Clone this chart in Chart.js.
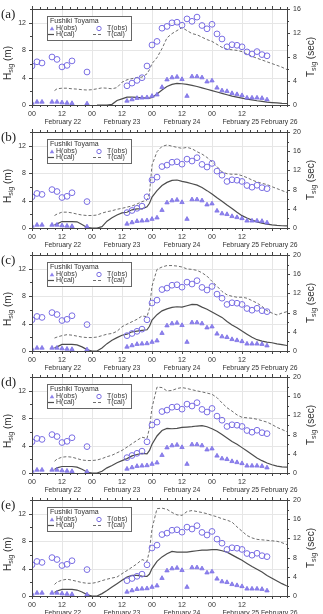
<!DOCTYPE html>
<html>
<head>
<meta charset="utf-8">
<script src="https://cdn.jsdelivr.net/npm/chart.js@4.4.0/dist/chart.umd.min.js"></script>
<style>
  body { margin: 0; width: 323px; height: 614px; overflow: hidden; background: #fff; position: relative; }
  canvas { position: absolute; left: 0; }
</style>
</head>
<body>
<canvas id="pa" width="323" height="135" style="top:0px"></canvas>
<canvas id="pb" width="323" height="135" style="top:123px"></canvas>
<canvas id="pc" width="323" height="135" style="top:246px"></canvas>
<canvas id="pd" width="323" height="135" style="top:368px"></canvas>
<canvas id="pe" width="323" height="135" style="top:491px"></canvas>
<script>
// hours since February 22 00:00
const obsHours = [0, 2, 4, 8, 10, 12, 14, 16, 22, 38, 40, 42, 44, 46, 48, 50, 52, 54, 56, 58, 60, 62, 64, 66, 68, 70, 72, 74, 76, 78, 80, 82, 84, 86, 88, 90, 92, 94];
const hObs = [0.3, 0.45, 0.45, 0.45, 0.45, 0.35, 0.3, 0.25, 0.2, 0.6, 0.8, 1.0, 1.05, 1.1, 1.3, 1.5, 2.6, 3.7, 4.0, 4.1, 3.75, 1.3, 4.15, 4.15, 4.0, 3.4, 3.55, 2.5, 2.1, 2.0, 1.7, 1.55, 1.4, 1.05, 1.05, 1.05, 1.0, 0.78];
const tObs = [6.5, 7.2, 7.0, 8.0, 7.6, 6.35, 6.6, 7.35, 5.5, 3.2, 3.65, 4.1, 4.55, 6.5, 10.0, 10.6, 12.8, 13.1, 13.7, 13.8, 13.3, 14.35, 13.95, 14.65, 13.25, 12.7, 13.45, 11.85, 11.0, 9.7, 10.05, 9.95, 9.7, 8.85, 8.5, 8.9, 8.4, 8.2];

const calHours = [9, 10, 12, 14, 16, 18, 20, 22, 24, 26, 28, 30, 32, 34, 36, 38, 40, 42, 44, 46, 47, 48, 50, 52, 54, 56, 58, 60, 62, 64, 66, 68, 70, 72, 74, 76, 78, 80, 82, 84, 86, 88, 90, 92, 94, 96, 98, 100, 102];

const hCalA = [null, null, null, null, null, null, null, null, null, 0, 0, 0, 0.1, 0.65, 0.9, 1.15, 1.15, 1.1, 1.05, 1.0, 1.0, 1.1, 1.6, 2.2, 2.7, 3.0, 3.15, 3.1, 3.0, 2.85, 2.7, 2.5, 2.3, 2.1, 1.9, 1.7, 1.5, 1.3, 1.15, 1.0, 0.85, 0.75, 0.62, 0.52, 0.43, 0.36, 0.3, 0.25, 0.22];
const tCalA = [2.4, 2.7, 2.8, 2.8, 2.7, 2.65, 2.55, 2.5, 2.55, 2.7, 2.85, 2.8, 2.7, 2.9, 3.8, 4.2, 4.4, 4.6, 4.65, 5.2, 5.9, 6.9, 7.9, 9.4, 11.2, 11.9, 12.4, 12.9, 12.4, 11.9, 11.7, 11.3, 10.9, 10.6, 10.1, 9.6, 9.3, 9.2, 9.1, 8.9, 8.5, 8.1, 7.8, 7.5, 7.2, 6.9, 6.6, 6.3, 5.9];

const hCalB = [0.45, 0.6, 0.94, 0.94, 0.94, 0.9, 0.5, 0.08, 0, 0, 0.2, 1.0, 1.5, 1.9, 2.2, 2.3, 2.65, 2.8, 2.8, 3.1, 3.6, 4.5, 5.45, 6.2, 6.65, 6.95, 7.0, 6.8, 6.65, 6.45, 6.25, 5.9, 5.45, 4.95, 4.4, 3.9, 3.35, 2.85, 2.3, 1.8, 1.45, 1.15, 0.9, 0.72, 0.56, 0.46, 0.38, 0.33, 0.3];
const tCalB = [2.6, 2.9, 3.3, 3.3, 3.15, 2.9, 2.7, 2.6, 2.6, 2.7, 3.1, 3.4, 3.6, 3.9, 4.1, 4.35, 4.6, 5.0, 5.5, 5.8, 7.2, 13.1, 15.9, 17.0, 17.3, 17.05, 16.8, 16.6, 16.8, 16.5, 15.9, 15.4, 14.7, 13.8, 12.8, 11.7, 11.3, 11.2, 11.2, 10.9, 10.5, 10.0, 9.6, 9.3, 9.05, 8.6, 8.2, 7.8, 7.4];

const hCalC = [0.45, 0.6, 0.97, 0.97, 0.97, 0.9, 0.6, 0.2, 0, 0, 0.45, 1.07, 1.56, 1.95, 2.3, 2.45, 2.8, 2.9, 3.0, 3.1, 3.6, 4.5, 5.3, 5.85, 6.15, 6.35, 6.45, 6.4, 6.6, 6.8, 6.75, 6.4, 6.1, 5.7, 5.3, 4.9, 4.3, 3.8, 3.4, 2.9, 2.45, 2.0, 1.65, 1.45, 1.3, 1.2, 1.05, 0.92, 0.8];
const tCalC = [2.7, 2.9, 3.2, 3.4, 3.3, 3.1, 2.9, 2.8, 2.8, 2.9, 3.2, 3.5, 3.65, 4.1, 5.05, 5.6, 6.1, 6.6, 7.3, 7.15, 8.9, 13.5, 17.0, 17.5, 17.8, 17.8, 17.7, 17.5, 17.1, 17.0, 16.8, 16.3, 15.6, 14.5, 13.5, 12.4, 11.7, 11.4, 11.2, 11.2, 11.0, 10.5, 10.0, 9.3, 8.4, 7.9, 7.5, 7.9, 8.2];

const hCalD = [0.5, 0.75, 0.95, 0.95, 0.95, 0.85, 0.55, 0.15, 0, 0, 0.25, 0.75, 1.1, 1.5, 1.8, 2.1, 2.5, 2.7, 2.85, 2.8, 3.3, 4.2, 5.4, 6.2, 6.5, 6.45, 6.5, 6.65, 6.7, 6.75, 6.85, 6.9, 6.75, 6.45, 6.1, 5.6, 5.1, 4.6, 4.2, 3.7, 3.2, 2.7, 2.2, 1.8, 1.45, 1.2, 1.0, 0.9, 0.85];
const tCalD = [2.45, 2.9, 3.3, 3.4, 3.3, 3.0, 2.7, 2.6, 2.6, 2.7, 3.0, 3.4, 3.7, 4.2, 4.7, 5.4, 6.1, 6.8, 7.45, 7.2, 9.4, 13.6, 17.9, 17.8, 17.1, 17.2, 17.6, 17.8, 17.6, 17.35, 17.1, 16.9, 16.65, 16.4, 15.7, 14.6, 13.6, 12.9, 12.1, 11.6, 11.5, 11.4, 11.2, 10.9, 10.6, 10.1, 9.5, 9.06, 8.6];

const hCalE = [0.5, 0.73, 0.97, 0.97, 0.97, 0.87, 0.58, 0.2, 0, 0, 0.35, 0.8, 1.3, 1.8, 2.3, 2.75, 3.0, 3.0, 2.9, 2.85, 3.2, 4.0, 5.05, 5.7, 6.15, 6.5, 6.4, 6.4, 6.4, 6.5, 6.6, 6.7, 6.7, 6.75, 6.75, 6.6, 6.4, 6.0, 5.6, 5.2, 4.75, 4.3, 3.9, 3.5, 3.0, 2.6, 2.2, 1.8, 1.45];
const tCalE = [2.4, 2.9, 3.3, 3.5, 3.3, 3.05, 2.8, 2.65, 2.65, 2.85, 3.2, 3.5, 3.75, 3.95, 4.65, 5.3, 6.0, 6.7, 7.6, 7.2, 9.5, 14.0, 18.2, 18.3, 18.05, 17.4, 16.9, 16.8, 17.6, 17.8, 17.6, 17.4, 17.15, 16.8, 16.5, 16.1, 15.8, 15.4, 14.4, 13.5, 12.6, 12.1, 11.8, 11.7, 11.6, 11.5, 11.4, 11.1, 10.7];

// date captions under the time axis (label text, hour where it is centred)
const dateLabels = ["February 22", "February 23", "February 24", "February 25", "February 26"];
const dateAt = [12.3, 36, 60, 83.5, 98.9];

const panels = [
  { id: "pa", tag: "(a)", hCal: hCalA, tCal: tCalA, tMax: 16 },
  { id: "pb", tag: "(b)", hCal: hCalB, tCal: tCalB, tMax: 20 },
  { id: "pc", tag: "(c)", hCal: hCalC, tCal: tCalC, tMax: 20 },
  { id: "pd", tag: "(d)", hCal: hCalD, tCal: tCalD, tMax: 20 },
  { id: "pe", tag: "(e)", hCal: hCalE, tCal: tCalE, tMax: 20 }
];

const FONT = '"Liberation Sans", Arial, sans-serif';
const markColor = "#7b6fe4";

function pts(xs, ys) {
  return xs.map((x, i) => ({ x: x, y: ys[i] })).filter(p => p.y !== null);
}

function rotTitle(ctx, x, y, main, sub, rest) {
  ctx.save();
  ctx.translate(x, y);
  ctx.rotate(-Math.PI / 2);
  ctx.fillStyle = "#333";
  ctx.textBaseline = "middle";
  ctx.textAlign = "left";
  ctx.font = "10px " + FONT;
  const w1 = ctx.measureText(main).width;
  const w3 = ctx.measureText(rest).width;
  ctx.font = "7px " + FONT;
  const w2 = ctx.measureText(sub).width;
  let cx = -(w1 + w2 + w3) / 2;
  ctx.font = "10px " + FONT;
  ctx.fillText(main, cx, 0);
  ctx.font = "7px " + FONT;
  ctx.fillText(sub, cx + w1, 3);
  ctx.font = "10px " + FONT;
  ctx.fillText(rest, cx + w1 + w2, 0);
  ctx.restore();
}

const decor = {
  id: "decor",
  beforeDatasetsDraw(chart) {
    const { ctx, chartArea: ca, scales } = chart;
    ctx.save();
    ctx.strokeStyle = "#e6e6e6";
    ctx.lineWidth = 1;
    ctx.beginPath();
    for (let h = 12; h < 102; h += 12) {
      const x = Math.round(scales.x.getPixelForValue(h)) + 0.5;
      ctx.moveTo(x, ca.top); ctx.lineTo(x, ca.bottom);
    }
    for (let v = 4; v < 14; v += 4) {
      const y = Math.round(scales.y.getPixelForValue(v)) + 0.5;
      ctx.moveTo(ca.left, y); ctx.lineTo(ca.right, y);
    }
    ctx.stroke();
    ctx.restore();
  },
  afterDatasetsDraw(chart, args, opts) {
    const { ctx, chartArea: ca, scales } = chart;
    ctx.save();
    // frame
    ctx.strokeStyle = "#444";
    ctx.lineWidth = 1;
    ctx.strokeRect(Math.round(ca.left) + 0.5, Math.round(ca.top) + 0.5, Math.round(ca.right - ca.left), Math.round(ca.bottom - ca.top));
    // ticks
    ctx.beginPath();
    for (let h = 0; h <= 102; h += 3) {
      const x = Math.round(scales.x.getPixelForValue(h)) + 0.5;
      const len = h % 12 === 0 ? 3 : 2;
      ctx.moveTo(x, ca.bottom); ctx.lineTo(x, ca.bottom + len);
      ctx.moveTo(x, ca.top); ctx.lineTo(x, ca.top - len);
    }
    for (let v = 0; v <= 14; v += 2) {
      const y = Math.round(scales.y.getPixelForValue(v)) + 0.5;
      const len = v % 4 === 0 ? 3 : 2;
      ctx.moveTo(ca.left, y); ctx.lineTo(ca.left - len, y);
    }
    for (let v = 0; v <= opts.tMax; v += 2) {
      const y = Math.round(scales.y2.getPixelForValue(v)) + 0.5;
      const len = v % 4 === 0 ? 3 : 2;
      ctx.moveTo(ca.right, y); ctx.lineTo(ca.right + len, y);
    }
    ctx.stroke();

    // legend box
    const lx = 47, ly = Math.round(ca.top) + 7;
    ctx.fillStyle = "#fff";
    ctx.fillRect(lx, ly, 84, 24);
    ctx.strokeStyle = "#666";
    ctx.strokeRect(lx + 0.5, ly + 0.5, 84, 24);
    ctx.font = "7px " + FONT;
    ctx.fillStyle = "#333";
    ctx.textBaseline = "middle";
    ctx.textAlign = "left";
    ctx.fillText("Fushiki Toyama", 50, ly + 5.5);
    ctx.fillText("H(obs)", 56, ly + 12.5);
    ctx.fillText("T(obs)", 107, ly + 12.5);
    ctx.fillText("H(cal)", 56, ly + 18.5);
    ctx.fillText("T(cal)", 107, ly + 18.5);
    ctx.fillStyle = "#8f84ee";
    ctx.beginPath();
    ctx.moveTo(52, ly + 10.5); ctx.lineTo(54.3, ly + 14.3); ctx.lineTo(49.7, ly + 14.3); ctx.closePath();
    ctx.fill();
    ctx.strokeStyle = markColor;
    ctx.beginPath();
    ctx.arc(99, ly + 12.5, 2.2, 0, Math.PI * 2);
    ctx.stroke();
    ctx.strokeStyle = "#4d4d4d";
    ctx.lineWidth = 1.2;
    ctx.beginPath(); ctx.moveTo(48, ly + 18.5); ctx.lineTo(54, ly + 18.5); ctx.stroke();
    ctx.strokeStyle = "#6e6e6e";
    ctx.lineWidth = 1;
    ctx.setLineDash([3, 2]);
    ctx.beginPath(); ctx.moveTo(93, ly + 18.5); ctx.lineTo(101, ly + 18.5); ctx.stroke();
    ctx.setLineDash([]);

    // date captions
    ctx.font = "6.8px " + FONT;
    ctx.fillStyle = "#333";
    ctx.textAlign = "center";
    dateLabels.forEach((d, i) => {
      ctx.fillText(d, scales.x.getPixelForValue(dateAt[i]), ca.bottom + 17.5);
    });

    // panel tag
    ctx.font = "13px \"Liberation Serif\", \"Times New Roman\", serif";
    ctx.textAlign = "left";
    ctx.fillStyle = "#222";
    ctx.fillText(opts.tag, 1, ca.top + 6);

    // axis titles
    const mid = (ca.top + ca.bottom) / 2;
    rotTitle(ctx, 8, mid + 6, "H", "sig", " (m)");
    rotTitle(ctx, 311, mid, "T", "sig", " (sec)");
    ctx.restore();
  }
};

const tickFont = { family: FONT, size: 7 };

for (const p of panels) {
  new Chart(document.getElementById(p.id), {
    type: "line",
    data: {
      datasets: [
        {
          label: "H(obs)", yAxisID: "y", order: 0, showLine: false,
          data: pts(obsHours, hObs), pointStyle: "triangle", pointRadius: 2.5,
          backgroundColor: "#8f84ee", borderColor: markColor, borderWidth: 0.8
        },
        {
          label: "T(obs)", yAxisID: "y2", order: 0, showLine: false,
          data: pts(obsHours, tObs), pointStyle: "circle", pointRadius: 2.9,
          backgroundColor: "rgba(0,0,0,0)", borderColor: markColor, borderWidth: 1
        },
        {
          label: "H(cal)", yAxisID: "y", order: 1,
          data: pts(calHours, p.hCal), pointRadius: 0,
          borderColor: "#4d4d4d", borderWidth: 1.2, tension: 0
        },
        {
          label: "T(cal)", yAxisID: "y2", order: 1,
          data: pts(calHours, p.tCal), pointRadius: 0,
          borderColor: "#6e6e6e", borderWidth: 1, borderDash: [3, 2], tension: 0
        }
      ]
    },
    options: {
      responsive: false,
      animation: false,
      devicePixelRatio: 1,
      layout: { padding: 0 },
      plugins: {
        legend: { display: false },
        tooltip: { enabled: false },
        decor: { tag: p.tag, tMax: p.tMax }
      },
      scales: {
        x: {
          type: "linear", position: "bottom", min: 0, max: 102,
          grid: { display: false, tickLength: 3 },
          border: { display: false },
          ticks: {
            stepSize: 12, autoSkip: false, maxRotation: 0, padding: 2,
            color: "#333", font: tickFont,
            callback: v => (v % 24 === 0 ? "00" : "12")
          },
          afterBuildTicks: s => { s.ticks = s.ticks.filter(t => t.value % 12 === 0); },
          afterFit: s => { s.height = 30; }
        },
        xTop: {
          type: "linear", position: "top", min: 0, max: 102,
          grid: { display: false },
          border: { display: false },
          ticks: { display: false },
          afterFit: s => { s.height = 9; }
        },
        y: {
          position: "left", min: 0, max: 14,
          grid: { display: false, tickLength: 3 },
          border: { display: false },
          ticks: { stepSize: 4, padding: 3, color: "#333", font: tickFont },
          afterBuildTicks: s => { s.ticks = s.ticks.filter(t => t.value % 4 === 0); },
          afterFit: s => { s.width = 32; }
        },
        y2: {
          position: "right", min: 0, max: p.tMax,
          grid: { display: false, tickLength: 3 },
          border: { display: false },
          ticks: { stepSize: 4, padding: 3, color: "#333", font: tickFont },
          afterFit: s => { s.width = 36; }
        }
      }
    },
    plugins: [decor]
  });
}
</script>
</body>
</html>
